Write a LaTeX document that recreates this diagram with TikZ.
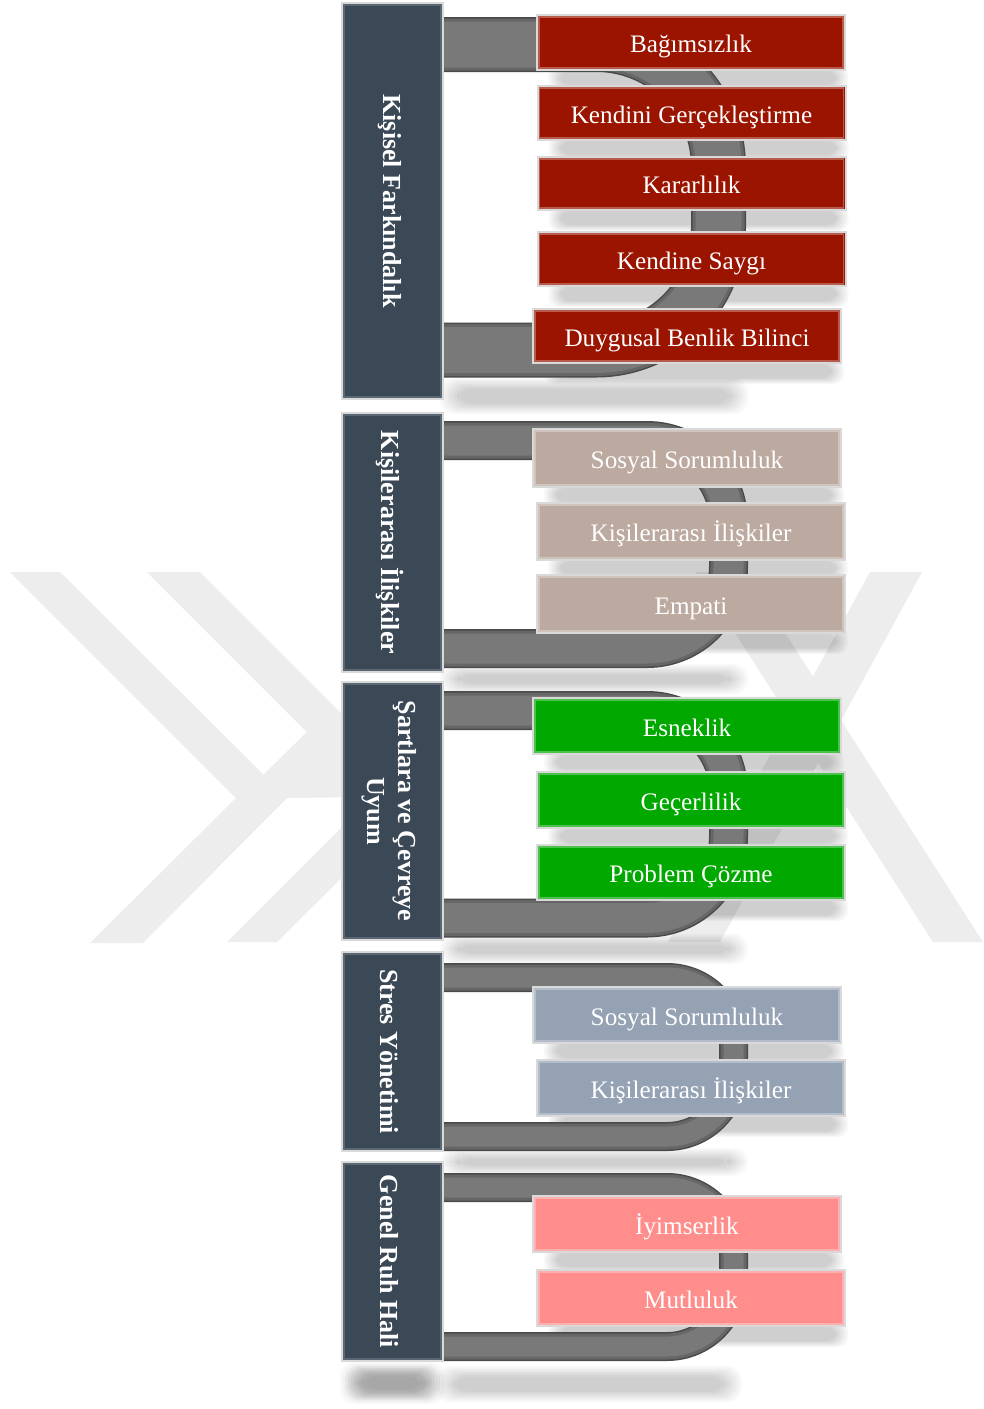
\documentclass[tikz,border=0pt]{standalone}
\usepackage{fontspec}
\setmainfont{Liberation Serif}
\usepackage{graphicx}
\pgfdeclarelayer{wm}
\pgfdeclarelayer{shade}
\pgfdeclarelayer{pipes}
\pgfsetlayers{wm,shade,pipes,main}

\definecolor{barfill}{HTML}{3B4856}
\definecolor{barline}{HTML}{5B6773}
\definecolor{redfill}{HTML}{9A1400}
\definecolor{taupefill}{HTML}{BCA99F}
\definecolor{greenfill}{HTML}{00A800}
\definecolor{bluefill}{HTML}{94A2B3}
\definecolor{pinkfill}{HTML}{FE8D8B}
\definecolor{pipeedge}{HTML}{4A4A4A}
\definecolor{pipemid}{HTML}{666666}
\definecolor{pipebody}{HTML}{797979}
\definecolor{wmgray}{HTML}{EDEDED}

\tikzset{
  itembox/.style={rectangle, draw=white!85!black, line width=1pt, text=white,
    inner sep=0pt, minimum width=154pt, text height=10pt, text depth=0pt,
    font=\fontsize{12.6}{15}\selectfont},
  barbox/.style={rectangle, fill=barfill, draw=white!85!black, line width=1pt,
    text=white, inner sep=0pt, minimum width=50.5pt,
    font=\bfseries\fontsize{13}{15.5}\selectfont},
}

% soft shadow: stacked translucent rounded rectangles
\newcommand\haze[4]{%
  \foreach \k in {0,...,7}{%
    \fill[black, opacity=0.025, rounded corners=7pt]
      (#1+2.5*\k, #2+1.5*\k) rectangle (#3-2.5*\k, #4-1.5*\k);
  }%
}

% coloured item box: name, cx, cy, height (px), colour, text
\newcommand\itembox[6]{%
  \pgfmathsetmacro\bh{#4*0.5}%
  \node[itembox, fill=#5, minimum height=\bh pt] (#1) at (#2,#3) {#6};
  \draw[#5!70!white, line width=0.6pt]
    ([shift={(3,3)}]#1.north west) rectangle ([shift={(-3,-3)}]#1.south east);
  \begin{pgfonlayer}{shade}
    \foreach \k in {0,...,6}{%
      \fill[black, opacity=0.028, rounded corners=5pt]
        ([shift={(12+2*\k,-6+\k)}]#1.south west) rectangle
        ([shift={(2-2*\k,20-\k)}]#1.south east);
    }%
  \end{pgfonlayer}
}

% dark category bar: name, cx, cy, height (px), text
\newcommand\catbar[5]{%
  \pgfmathsetmacro\bh{#4*0.5}%
  \node[barbox, minimum height=\bh pt] (#1) at (#2,#3)
    {\rotatebox{-90}{\raisebox{0pt}[\dimexpr\height+3pt\relax][\depth]{#5}}};
  \draw[barline, line width=0.6pt]
    ([shift={(3,3)}]#1.north west) rectangle ([shift={(-3,-3)}]#1.south east);
}

% bent tube leaving a bar and returning to it:
% start, end, x of the vertical run, thickness (px), corner radius (px)
\newcommand\tube[5]{%
  \pgfmathsetmacro\tw{#4*0.5}%
  \pgfmathsetmacro\tm{(#4-3)*0.5}%
  \pgfmathsetmacro\tb{(#4-9)*0.5}%
  \pgfmathsetmacro\tr{#5*0.5}%
  \begin{pgfonlayer}{pipes}
    \draw[pipeedge, line width=\tw pt, rounded corners=\tr pt]
      (#1) -- (#1 -| #3,0) -- (#2 -| #3,0) -- (#2);
    \draw[pipemid, line width=\tm pt, rounded corners=\tr pt]
      (#1) -- (#1 -| #3,0) -- (#2 -| #3,0) -- (#2);
    \draw[pipebody, line width=\tb pt, rounded corners=\tr pt]
      (#1) -- (#1 -| #3,0) -- (#2 -| #3,0) -- (#2);
  \end{pgfonlayer}
}

\begin{document}
\begin{tikzpicture}[x=0.5pt,y=-0.5pt]
\begin{pgfonlayer}{wm}
  \fill[white] (0,0) rectangle (984,1409);
  % faint emblem behind the chart
  \fill[wmgray] (10,572) -- (60,572) -- (287,798) -- (143,943) -- (90,943) -- (236,798) -- cycle;
  \fill[wmgray] (147,572) -- (200,572) -- (424,796) -- (277,942) -- (227,942) -- (372,797) -- cycle;
  \fill[wmgray] (263,775) -- (307,732) -- (372,797) -- (287,798) -- cycle;
  \fill[wmgray] (870,572) -- (922,572) -- (720,942) -- (668,942) -- cycle;
  \fill[wmgray] (696,572) -- (746,572) -- (983,942) -- (933,942) -- cycle;
\end{pgfonlayer}
\useasboundingbox (0,0) rectangle (984,1409);

% shadows under each group
\begin{pgfonlayer}{shade}
  \haze{440}{378}{748}{414}
  \haze{440}{664}{748}{694}
  \haze{440}{934}{748}{964}
  \haze{440}{1148}{748}{1176}
  \haze{340}{1362}{445}{1404}
  \haze{345}{1366}{440}{1400}
  \haze{436}{1366}{742}{1402}
\end{pgfonlayer}

% category bars
\catbar{bar1}{392.5}{201}{396}{Kişisel Farkındalık}
\catbar{bar2}{392.5}{542.5}{259}{Kişilerarası İlişkiler}
\catbar{bar3}{392.5}{811}{258}{\begin{tabular}{@{}c@{}}Şartlara ve Çevreye\\Uyum\end{tabular}}
\catbar{bar4}{392.5}{1051.5}{199}{Stres Yönetimi}
\catbar{bar5}{392.5}{1261.5}{199}{Genel Ruh Hali}

% tube end points at the bars
\coordinate (t1a) at (436,44.5);   \coordinate (t1b) at (436,350);
\coordinate (t2a) at (436,440.5);  \coordinate (t2b) at (436,648.5);
\coordinate (t3a) at (436,710.5);  \coordinate (t3b) at (436,918);
\coordinate (t4a) at (436,977.5);  \coordinate (t4b) at (436,1136.5);
\coordinate (t5a) at (436,1187.5); \coordinate (t5b) at (436,1346.5);

\tube{t1a}{t1b}{718.5}{55}{122.5}
\tube{t2a}{t2b}{728.5}{39}{81.5}
\tube{t3a}{t3b}{728.5}{39}{81.5}
\tube{t4a}{t4b}{733.5}{29}{66.5}
\tube{t5a}{t5b}{733.5}{29}{66.5}

% Kişisel Farkındalık
\itembox{a1}{691}{42.5}{55}{redfill}{Bağımsızlık}
\itembox{a2}{691.5}{113}{54}{redfill}{Kendini Gerçekleştirme}
\itembox{a3}{691.5}{183.5}{53}{redfill}{Kararlılık}
\itembox{a4}{691.5}{259}{54}{redfill}{Kendine Saygı}
\itembox{a5}{687}{336}{54}{redfill}{Duygusal Benlik Bilinci}

% Kişilerarası İlişkiler
\itembox{b1}{687}{458}{58}{taupefill}{Sosyal Sorumluluk}
\itembox{b2}{691}{531.5}{57}{taupefill}{Kişilerarası İlişkiler}
\itembox{b3}{691}{604}{58}{taupefill}{Empati}

% Şartlara ve Çevreye Uyum
\itembox{c1}{687}{726}{56}{greenfill}{Esneklik}
\itembox{c2}{691}{800}{56}{greenfill}{Geçerlilik}
\itembox{c3}{691}{872.5}{55}{greenfill}{Problem Çözme}

% Stres Yönetimi
\itembox{d1}{687}{1015}{56}{bluefill}{Sosyal Sorumluluk}
\itembox{d2}{691}{1088}{56}{bluefill}{Kişilerarası İlişkiler}

% Genel Ruh Hali
\itembox{e1}{687}{1224}{56}{pinkfill}{İyimserlik}
\itembox{e2}{691}{1298}{56}{pinkfill}{Mutluluk}
\end{tikzpicture}
\end{document}
